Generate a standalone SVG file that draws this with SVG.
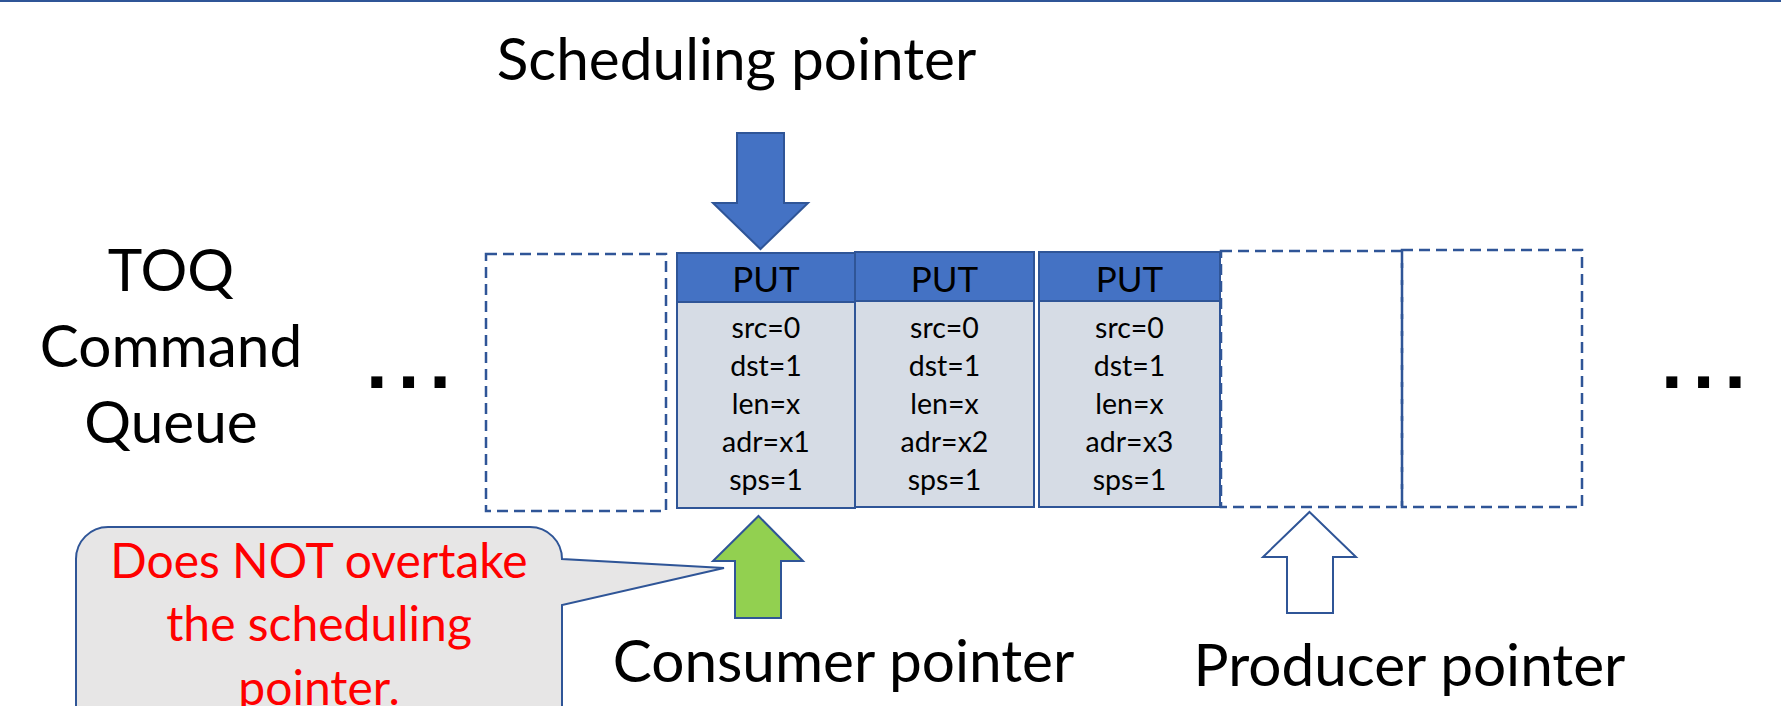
<svg xmlns="http://www.w3.org/2000/svg" width="1781" height="706" viewBox="0 0 1781 706">
  <style>
    .big { font-family: Lato, "Open Sans", sans-serif; font-size: 58.5px; fill: #000; text-anchor: middle; }
    .hdr { font-family: Lato, "Open Sans", sans-serif; font-size: 35px; fill: #000; text-anchor: middle; }
    .fld { font-family: Lato, "Open Sans", sans-serif; font-size: 28.5px; fill: #000; text-anchor: middle; }
    .note { font-family: Lato, "Open Sans", sans-serif; font-size: 48px; fill: #FF0000; text-anchor: middle; }
    .dots { font-family: "Liberation Sans", Arial, sans-serif; font-weight: bold; font-size: 78px; letter-spacing: 10px; fill: #000; }
    .slot { fill: none; stroke: #2F5597; stroke-width: 2.5; stroke-dasharray: 11 6; }
    .head { fill: #4472C4; stroke: #2F5597; stroke-width: 2; }
    .body { fill: #D6DCE5; stroke: #2F5597; stroke-width: 2; }
    .ptr { stroke: #2F5597; stroke-width: 2; stroke-linejoin: miter; }
  </style>

  <!-- page rule -->
  <rect x="0" y="0" width="1781" height="2" fill="#2F5597"/>

  <!-- queue title -->
  <g id="queue-title">
    <text class="big" x="171" y="291">TOQ</text>
    <text class="big" x="171" y="367">Command</text>
    <text class="big" x="171" y="443">Queue</text>
  </g>

  <!-- continuation marks -->
  <g id="more-left"><text class="dots" x="366" y="388">...</text></g>
  <g id="more-right"><text class="dots" x="1661" y="388">...</text></g>

  <!-- empty slots -->
  <g id="slot-empty-1"><rect class="slot" x="486" y="254" width="180" height="257"/></g>
  <g id="slot-empty-2"><rect class="slot" x="1221" y="251" width="181" height="256"/></g>
  <g id="slot-empty-3"><rect class="slot" x="1402" y="250" width="180" height="257"/></g>

  <!-- PUT commands -->
  <g id="cmd-1">
    <rect class="body" x="677" y="302" width="178" height="206"/>
    <rect class="head" x="677" y="253" width="178" height="49"/>
    <text class="hdr" x="766" y="292">PUT</text>
    <text class="fld" x="766" y="338">src=0</text>
    <text class="fld" x="766" y="376">dst=1</text>
    <text class="fld" x="766" y="414">len=x</text>
    <text class="fld" x="766" y="452">adr=x1</text>
    <text class="fld" x="766" y="490">sps=1</text>
  </g>
  <g id="cmd-2">
    <rect class="body" x="855" y="301" width="179" height="206"/>
    <rect class="head" x="855" y="252" width="179" height="49"/>
    <text class="hdr" x="944.5" y="292">PUT</text>
    <text class="fld" x="944.5" y="338">src=0</text>
    <text class="fld" x="944.5" y="376">dst=1</text>
    <text class="fld" x="944.5" y="414">len=x</text>
    <text class="fld" x="944.5" y="452">adr=x2</text>
    <text class="fld" x="944.5" y="490">sps=1</text>
  </g>
  <g id="cmd-3">
    <rect class="body" x="1039" y="301" width="181" height="206"/>
    <rect class="head" x="1039" y="252" width="181" height="49"/>
    <text class="hdr" x="1129.5" y="292">PUT</text>
    <text class="fld" x="1129.5" y="338">src=0</text>
    <text class="fld" x="1129.5" y="376">dst=1</text>
    <text class="fld" x="1129.5" y="414">len=x</text>
    <text class="fld" x="1129.5" y="452">adr=x3</text>
    <text class="fld" x="1129.5" y="490">sps=1</text>
  </g>

  <!-- pointers -->
  <g id="connectors">
    <polygon class="ptr" fill="#4472C4" points="737,133 784,133 784,203 808,203 760.5,249 713,203 737,203"/>
    <polygon class="ptr" fill="#92D050" points="758.5,516 803,561 781,561 781,618 735,618 735,561 713,561"/>
    <polygon class="ptr" fill="#FFFFFF" points="1309.5,512 1356,557 1333,557 1333,613 1287,613 1287,557 1263,557"/>
  </g>

  <!-- pointer labels -->
  <g id="label-scheduling"><text class="big" x="736.5" y="80">Scheduling pointer</text></g>
  <g id="label-consumer"><text class="big" x="843.5" y="682">Consumer pointer</text></g>
  <g id="label-producer"><text class="big" x="1409.5" y="686">Producer pointer</text></g>

  <!-- callout -->
  <g id="callout">
    <path d="M108,527 H530 A32,32 0 0 1 562,559 L724,568 L562,605 V760 H76 V559 A32,32 0 0 1 108,527 Z" fill="#E7E6E6" stroke="#2F5597" stroke-width="2" stroke-linejoin="miter"/>
    <text class="note" x="319" y="578">Does NOT overtake</text>
    <text class="note" x="319" y="641">the scheduling</text>
    <text class="note" x="319" y="704.5">pointer.</text>
  </g>
</svg>
